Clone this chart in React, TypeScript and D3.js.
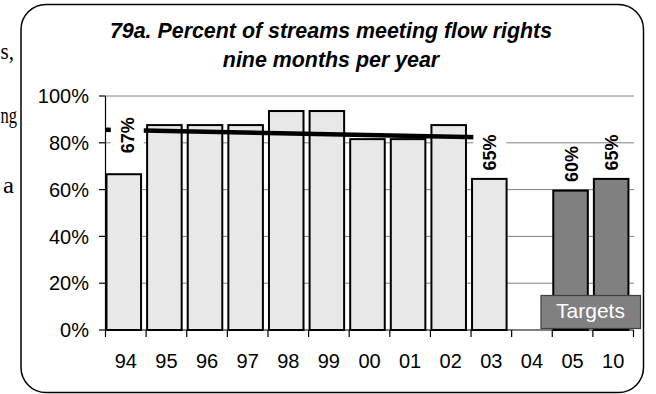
import React from "react";
import * as d3 from "d3";

const categories = ["94", "95", "96", "97", "98", "99", "00", "01", "02", "03", "04", "05", "10"];
const actualValues: (number | null)[] = [67, 88, 88, 88, 94, 94, 82, 82, 88, 65, null, null, null];
const targetValues: (number | null)[] = [null, null, null, null, null, null, null, null, null, null, null, 60, 65];
const dataLabels: (string | null)[] = ["67%", null, null, null, null, null, null, null, null, "65%", null, "60%", "65%"];
const yTicks = [0, 20, 40, 60, 80, 100];
const trendIndex = [-0.5, 9];
const trendValues = [85.6, 82.25];
const titleLines = ["79a. Percent of streams meeting flow rights", "nine months per year"];
const legendText = "Targets";
const sideText = ["s,", "ng", "a"];

const W = 656;
const H = 394;
const SANS = "'Liberation Sans', Arial, Helvetica, sans-serif";
const SERIF = "'Liberation Serif', 'Times New Roman', serif";

export default function App() {
  const left = 105.5;
  const right = 633.5;
  const top = 96;
  const bottom = 330;

  const x = d3.scaleBand<string>().domain(categories).range([left, right]).paddingInner(0).paddingOuter(0);
  const step = x.step();
  const y = d3.scaleLinear().domain([0, 100]).range([bottom, top]);
  const xIdx = d3.scaleLinear().domain([-0.5, categories.length - 0.5]).range([left, right]);

  const barW = step * 0.9;

  const trendLine = d3
    .line<number>()
    .x((_, i) => xIdx(trendIndex[i]))
    .y((v) => y(v));

  const sideY = [59, 123, 193];
  const sideX = [0.5, 0.5, 3];
  const sideLen = [13.5, 16.5, 11];

  return (
    <svg width={W} height={H} style={{ position: "absolute", left: 0, top: 0 }} xmlns="http://www.w3.org/2000/svg">
      <rect x={0} y={0} width={W} height={H} fill="#ffffff" />
      {sideText.map((t, i) => (
        <text
          key={t}
          x={sideX[i]}
          y={sideY[i]}
          textAnchor="start"
          fontFamily={SERIF}
          fontSize={23}
          fill="#000"
          textLength={sideLen[i]}
          lengthAdjust="spacingAndGlyphs"
        >
          {t}
        </text>
      ))}
      <rect x={21} y={4.5} width={622.5} height={388} rx={25} ry={25} fill="#fff" stroke="#000" strokeWidth={1.5} />

      {titleLines.map((t, i) => (
        <text
          key={t}
          x={331}
          y={38 + i * 28.5}
          textAnchor="middle"
          fontFamily={SANS}
          fontSize={21.4}
          fontWeight="bold"
          fontStyle="italic"
          fill="#000"
        >
          {t}
        </text>
      ))}

      {/* gridlines */}
      {yTicks
        .filter((t) => t > 0)
        .map((t) => (
          <line key={"g" + t} x1={left} x2={right + 0.5} y1={y(t)} y2={y(t)} stroke="#808080" strokeWidth={1} />
        ))}

      {/* actual bars */}
      {categories.map((c, i) => {
        const v = actualValues[i];
        if (v == null) return null;
        return (
          <rect
            key={"a" + c}
            x={(x(c) as number) + 1}
            y={y(v) + 1}
            width={barW - 2}
            height={bottom - y(v) - 1}
            fill="#e8e8e8"
            stroke="#000"
            strokeWidth={2}
          />
        );
      })}
      {/* target bars */}
      {categories.map((c, i) => {
        const v = targetValues[i];
        if (v == null) return null;
        return (
          <rect
            key={"t" + c}
            x={(x(c) as number) + 1}
            y={y(v) + 1}
            width={barW - 2}
            height={bottom - y(v) - 1}
            fill="#808080"
            stroke="#000"
            strokeWidth={2}
          />
        );
      })}

      {/* axes */}
      <line x1={left} x2={left} y1={top} y2={bottom} stroke="#000" strokeWidth={1.2} />
      {yTicks.map((t) => (
        <g key={"yt" + t}>
          <line x1={left - 6.5} x2={left} y1={y(t)} y2={y(t)} stroke="#000" strokeWidth={1.2} />
          <text x={89} y={y(t)} dy="0.36em" textAnchor="end" fontFamily={SANS} fontSize={20} fill="#000">
            {t}%
          </text>
        </g>
      ))}
      <line x1={left} x2={right} y1={bottom} y2={bottom} stroke="#000" strokeWidth={1.2} />
      {d3.range(categories.length + 1).map((k) => (
        <line key={"xt" + k} x1={left + k * step} x2={left + k * step} y1={bottom} y2={bottom + 7} stroke="#000" strokeWidth={1.2} />
      ))}
      {categories.map((c) => (
        <text key={"xl" + c} x={(x(c) as number) + step / 2} y={368} textAnchor="middle" fontFamily={SANS} fontSize={20} fill="#000">
          {c}
        </text>
      ))}

      {/* trend */}
      <path d={trendLine(trendValues) || ""} fill="none" stroke="#000" strokeWidth={4.5} />

      {/* data labels */}
      {categories.map((c, i) => {
        const lab = dataLabels[i];
        if (!lab) return null;
        const isActual = actualValues[i] != null;
        const v = (isActual ? actualValues[i] : targetValues[i]) as number;
        const cx = (x(c) as number) + barW / 2 + (i === 0 ? 3.5 : 0.5);
        const lift = i === 0 ? 20 : 7.5;
        const y0 = y(v) - lift;
        return (
          <g key={"dl" + c}>
            {isActual && <rect x={cx - 16.5} y={y0 - 42} width={33} height={46} fill="#fff" />}
            <text
              transform={`translate(${cx},${y0}) rotate(-90)`}
              dy="0.36em"
              textAnchor="start"
              fontFamily={SANS}
              fontSize={18}
              fontWeight="bold"
              fill="#000"
            >
              {lab}
            </text>
          </g>
        );
      })}

      {/* Targets legend box */}
      <rect x={541} y={295.5} width={99.5} height={33} fill="#808080" stroke="#404040" strokeWidth={1.2} />
      <text x={590.5} y={317.5} textAnchor="middle" fontFamily={SANS} fontSize={21} fill="#fff">
        {legendText}
      </text>
    </svg>
  );
}
